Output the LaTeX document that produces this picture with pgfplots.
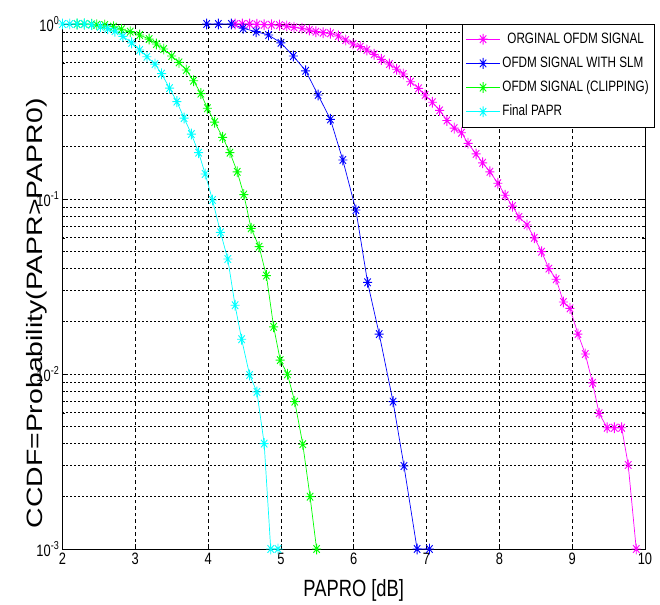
\documentclass[border=0pt]{standalone}
\usepackage{pgfplots}
\pgfplotsset{compat=1.18}
\usepackage{fontspec}
\setmainfont{Liberation Sans}
\newfontfamily\narrowf[FakeStretch=0.78]{Liberation Sans}
\newfontfamily\widef[FakeStretch=1.28]{Liberation Sans}
\definecolor{mmag}{rgb}{1,0,1}
\definecolor{mblue}{rgb}{0,0,1}
\definecolor{mgreen}{rgb}{0,1,0}
\definecolor{mcyan}{rgb}{0,1,1}
\pgfdeclareplotmark{mstar}{%
 \pgfpathmoveto{\pgfqpoint{0pt}{\pgfplotmarksize}}\pgfpathlineto{\pgfqpoint{0pt}{-\pgfplotmarksize}}%
 \pgfpathmoveto{\pgfqpoint{\pgfplotmarksize}{0pt}}\pgfpathlineto{\pgfqpoint{-\pgfplotmarksize}{0pt}}%
 \pgfpathmoveto{\pgfqpoint{0.7071\pgfplotmarksize}{0.7071\pgfplotmarksize}}\pgfpathlineto{\pgfqpoint{-0.7071\pgfplotmarksize}{-0.7071\pgfplotmarksize}}%
 \pgfpathmoveto{\pgfqpoint{0.7071\pgfplotmarksize}{-0.7071\pgfplotmarksize}}\pgfpathlineto{\pgfqpoint{-0.7071\pgfplotmarksize}{0.7071\pgfplotmarksize}}%
 \pgfusepathqstroke}
\begin{document}
\begin{tikzpicture}
\begin{axis}[
 scale only axis, width=582.5bp, height=525bp,
 clip=false,
 xmin=2, xmax=10, ymode=log, ymin=1e-3, ymax=1,
 xtick={2,3,4,5,6,7,8,9,10},
 ytick={1e-3,1e-2,1e-1,1},
 yticklabels={10\textsuperscript{-3},10\textsuperscript{-2},10\textsuperscript{-1},10\textsuperscript{0}},
 /pgf/number format/assume math mode=true,
 tick label style={font=\narrowf\fontsize{16.5bp}{19bp}\selectfont},
 xticklabel style={inner sep=0pt, yshift=-4bp},
 yticklabel style={inner sep=0pt, xshift=-3bp},
 tick align=inside, major tick length=5bp, minor tick length=3bp,
 tick style={black, line width=0.6bp},
 xmajorgrids, ymajorgrids, yminorgrids,
 x grid style={dash pattern=on 3.5bp off 3bp, black, line width=0.7bp},
 y grid style={dash pattern=on 2bp off 2bp, black, line width=0.7bp},
 axis line style={line width=0.9bp},
 xlabel={PAPRO [dB]},
 xlabel style={font=\narrowf\fontsize{23.5bp}{26bp}\selectfont, at={(axis description cs:0.5,-0.057)}, anchor=north, inner sep=0pt},
 ylabel={CCDF=Probability(PAPR>PAPR0)},
 ylabel style={font=\widef\fontsize{22.2bp}{26bp}\selectfont, at={(axis description cs:-0.0438,0.4486)}, anchor=center, inner sep=0pt},
 legend style={at={(1.017,1)}, anchor=north east, draw=black, fill=white, inner xsep=4bp, inner ysep=6bp, row sep=6.2bp, font=\narrowf\fontsize{15bp}{17bp}\selectfont, nodes={inner sep=2bp, text height=11bp, text depth=3bp}},
 legend cell align=left,
 legend image code/.code={\draw[mark repeat=2,mark phase=2,#1] plot coordinates {(0bp,0bp) (17bp,0bp) (34bp,0bp)};},
 every axis plot/.append style={line width=0.7bp, mark=mstar, mark size=4.5bp, mark options={solid, yscale=1.2, line width=0.9bp}},
]
\addplot[mmag] coordinates {
(4.37,1)(4.47,1)(4.57,1)(4.67,0.995)(4.77,0.99)(4.87,0.99)(4.98,0.985)(5.08,0.974)(5.18,0.957)(5.29,0.945)(5.39,0.924)(5.48,0.904)(5.58,0.892)(5.68,0.885)(5.79,0.854)(5.89,0.81)(5.99,0.769)(6.09,0.742)(6.18,0.71)(6.28,0.671)(6.38,0.628)(6.49,0.591)(6.59,0.551)(6.68,0.518)(6.78,0.468)(6.89,0.429)(6.98,0.393)(7.08,0.357)(7.18,0.321)(7.28,0.281)(7.38,0.254)(7.48,0.239)(7.57,0.208)(7.68,0.181)(7.77,0.161)(7.87,0.143)(7.98,0.123)(8.08,0.105)(8.18,0.091)(8.27,0.079)(8.38,0.071)(8.48,0.060)(8.58,0.050)(8.68,0.040)(8.78,0.0348)(8.88,0.0258)(8.97,0.0237)(9.08,0.0169)(9.18,0.013)(9.28,0.0089)(9.37,0.00596)(9.48,0.00493)(9.58,0.00493)(9.68,0.00493)(9.77,0.00302)(9.88,0.001)
};
\addlegendentry{\hspace{5bp}ORGINAL OFDM SIGNAL}
\addplot[mblue] coordinates {
(3.98,1)(4.14,1)(4.32,1)(4.48,0.945)(4.66,0.904)(4.83,0.865)(5.00,0.78)(5.17,0.656)(5.34,0.54)(5.51,0.393)(5.68,0.285)(5.85,0.167)(6.03,0.0865)(6.19,0.0334)(6.35,0.0169)(6.54,0.00695)(6.69,0.00298)(6.87,0.001)(7.04,0.001)
};
\addlegendentry{OFDM SIGNAL WITH SLM}
\addplot[mgreen] coordinates {
(2.2,1)(2.3,1)(2.4,0.995)(2.47,0.99)(2.58,0.987)(2.70,0.965)(2.81,0.933)(2.93,0.904)(3.06,0.865)(3.19,0.82)(3.29,0.769)(3.39,0.72)(3.50,0.656)(3.60,0.603)(3.70,0.546)(3.80,0.474)(3.90,0.40)(3.99,0.33)(4.09,0.275)(4.20,0.225)(4.30,0.184)(4.40,0.143)(4.49,0.106)(4.59,0.068)(4.70,0.0534)(4.80,0.0365)(4.90,0.0186)(4.99,0.012)(5.09,0.00996)(5.19,0.00695)(5.30,0.00397)(5.40,0.00199)(5.49,0.001)
};
\addlegendentry{OFDM SIGNAL (CLIPPING)\hspace{8bp}}
\addplot[mcyan] coordinates {
(2.0,1)(2.1,1)(2.2,1)(2.3,1)(2.4,0.99)(2.52,0.965)(2.62,0.94)(2.72,0.91)(2.83,0.85)(2.95,0.78)(3.06,0.71)(3.16,0.65)(3.27,0.59)(3.36,0.52)(3.47,0.43)(3.57,0.36)(3.67,0.29)(3.77,0.235)(3.87,0.184)(3.96,0.139)(4.06,0.0987)(4.17,0.0645)(4.27,0.0454)(4.37,0.0247)(4.46,0.0158)(4.57,0.00987)(4.67,0.0079)(4.77,0.004)(4.86,0.001)(4.96,0.001)
};
\addlegendentry{Final PAPR}
\path (rel axis cs:-0.1073,-0.1067) rectangle (rel axis cs:1.0258,1.0457);
\end{axis}
\end{tikzpicture}
\end{document}
